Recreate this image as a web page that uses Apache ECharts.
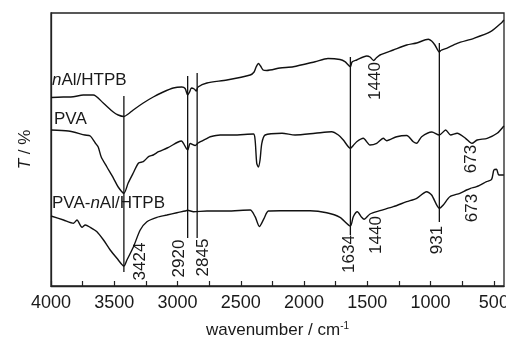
<!DOCTYPE html>
<html>
<head>
<meta charset="utf-8">
<script src="https://cdn.jsdelivr.net/npm/echarts@6/dist/echarts.min.js"></script>
<style>
html,body{margin:0;padding:0;background:#fff;}
#c{width:506px;height:338px;}
</style>
</head>
<body>
<div id="c"></div>
<script>
// Arbitrary transmittance units (curves are vertically offset as in the figure)
const nAlHTPB = [[4000,188.5],[3903,189],[3824,189.3],[3745,191],[3666,191],[3587,183],[3508,174],[3469,171],[3424,169.5],[3390,172],[3350,176],[3271,183],[3192,189],[3113,194],[3034,198],[2966,199],[2940,197.5],[2920,191],[2905,194],[2890,198],[2868,197],[2852,195],[2838,199],[2768,203],[2610,206],[2426,211],[2395,214],[2379,219],[2361,222.5],[2344,220],[2324,216],[2295,215.5],[2190,218],[2085,219.3],[1913,224.3],[1811,227.5],[1716,226.5],[1677,224.3],[1634,219.3],[1621,224],[1584,226],[1505,230],[1479,229],[1450,225.5],[1430,228],[1400,231],[1295,236],[1189,241],[1110,243],[1019,246.7],[992,245],[966,241],[931,234],[919,235.5],[874,237.7],[790,242.7],[658,247.7],[526,254.3],[439,263.3],[421,266]];
const PVA = [[4000,156],[3863,155],[3732,151],[3690,150],[3650,143],[3627,139],[3603,129],[3558,119],[3506,107.7],[3469,99],[3424,92.7],[3390,103],[3350,113],[3308,123],[3271,124.3],[3229,129.3],[3192,131],[3150,134.3],[3082,138],[2995,144],[2970,145],[2920,136],[2900,142.5],[2860,140.5],[2837,143],[2766,147.7],[2742,149.3],[2663,151],[2561,151],[2400,152],[2387,146],[2374,122.7],[2361,119],[2348,126],[2334,142.7],[2308,151],[2174,152.7],[2071,151],[1913,152.7],[1782,154.3],[1729,151],[1690,146],[1634,137.7],[1611,140.5],[1584,144.3],[1532,147.7],[1479,141],[1426,142.7],[1374,147.7],[1347,145.3],[1268,149.3],[1189,150.5],[1137,144.3],[1110,142.7],[1071,149.3],[990,154],[931,151],[881,156],[842,151],[790,152.7],[724,147.7],[673,142.7],[632,146],[553,147.7],[474,152.7],[421,160]];
const PVA_nAlHTPB = [[4000,70],[3901,66],[3822,62.7],[3795,66],[3755,58.7],[3729,61],[3690,58.7],[3637,54.3],[3585,46],[3532,36],[3479,27.7],[3424,20],[3400,26],[3348,39.3],[3295,56],[3242,64.3],[3163,68.7],[3084,71],[3005,73.3],[2940,75],[2920,75.7],[2874,74.3],[2768,75],[2610,75],[2426,76],[2387,69.3],[2353,59.5],[2316,67.7],[2282,75],[2190,75.3],[2085,75.3],[1953,75.3],[1821,73.3],[1716,68.7],[1634,60],[1611,69.3],[1579,74.3],[1545,68.7],[1526,66.7],[1479,72],[1400,75.3],[1295,79.3],[1189,84.3],[1110,87.7],[1032,94.3],[992,91],[931,77.7],[900,81],[848,89.3],[769,92.7],[716,96],[684,97.7],[637,99.3],[558,104.3],[518,106.7],[500,116],[479,116.7],[461,111],[421,111]];

// Marker lines: wavenumber, lower end, upper end (same units)
const markerWn = [3424, 2920, 2845, 1634, 931];
const markerLow = [14, 48, 48, 51, 64];
const markerHigh = [190, 210, 213, 229, 243];

const tickValues = [500,750,1000,1250,1500,1750,2000,2250,2500,2750,3000,3250,3500,3750,4000];
const labelValues = [500,1000,1500,2000,2500,3000,3500,4000];

const seriesNames = ['nAl/HTPB', 'PVA', 'PVA-nAl/HTPB'];
const peakLabels = ['3424','2920','2845','1634','1440','931','673','673','1440'];

const FONT = "'Liberation Sans',Arial,sans-serif";
const TXT = '#1a1a1a';
const FS = 17;

const chart = echarts.init(document.getElementById('c'), null, {renderer:'canvas', width:506, height:338});

const series = [
  {name: seriesNames[0], data: nAlHTPB},
  {name: seriesNames[1], data: PVA},
  {name: seriesNames[2], data: PVA_nAlHTPB}
].map(s => ({
  type:'line', name:s.name, data:s.data, showSymbol:false, smooth:0.25,
  lineStyle:{color:'#111', width:1.4}, silent:true, animation:false
}));

markerWn.forEach((w,i) => {
  series.push({
    type:'line', data:[[w, markerLow[i]],[w, markerHigh[i]]], showSymbol:false,
    lineStyle:{color:'#111', width:1.3}, silent:true, animation:false
  });
});

// label positions (pixels)
const peakPos = [[140,261.5],[179,258.5],[203,257.5],[349,254],[376.5,235],[437.5,240],[472.5,208],[471.5,159],[375,81]];
const graphics = [];
peakLabels.forEach((t,i) => {
  graphics.push({type:'text', x:peakPos[i][0], y:peakPos[i][1], rotation:Math.PI/2,
    style:{text:t, font:FS+'px ' + FONT, fill:TXT, textAlign:'center', textVerticalAlign:'middle'}});
});
const namePos = [[52,80],[54,119],[52,203]];
graphics.push({type:'text', x:namePos[0][0], y:namePos[0][1],
  style:{text:'{i|n}{r|Al/HTPB}', textVerticalAlign:'middle', rich:{i:{font:'italic '+FS+'px '+FONT, fill:TXT}, r:{font:FS+'px '+FONT, fill:TXT}}}});
graphics.push({type:'text', x:namePos[1][0], y:namePos[1][1],
  style:{text:'PVA', font:FS+'px '+FONT, fill:TXT, textVerticalAlign:'middle'}});
graphics.push({type:'text', x:namePos[2][0], y:namePos[2][1],
  style:{text:'{r|PVA-}{i|n}{r|Al/HTPB}', textVerticalAlign:'middle', rich:{i:{font:'italic '+FS+'px '+FONT, fill:TXT}, r:{font:FS+'px '+FONT, fill:TXT}}}});

chart.setOption({
  backgroundColor:'#fff',
  animation:false,
  grid:{left:51, right:2, top:13, bottom:52, show:true, borderColor:'#222', borderWidth:1.3, containLabel:false, outerBoundsMode:'none'},
  xAxis:{
    type:'value', inverse:true, min:420, max:4000,
    axisLine:{show:true, lineStyle:{color:'#222', width:1.3}},
    axisTick:{show:true, inside:true, length:5, customValues:tickValues, lineStyle:{color:'#222', width:1.2}},
    axisLabel:{show:true, customValues:labelValues, formatter:v => String(v), fontFamily:FONT, fontSize:18, color:TXT, margin:8, hideOverlap:false},
    splitLine:{show:false},
    name:'wavenumber / cm{s|-1}', nameLocation:'middle', nameGap:35,
    nameTextStyle:{fontFamily:FONT, fontSize:FS, color:TXT, rich:{s:{fontFamily:FONT, fontSize:10, color:TXT, verticalAlign:'top', padding:[0,0,8,0]}}}
  },
  yAxis:{
    type:'value', min:0, max:273,
    axisLine:{show:true, lineStyle:{color:'#222', width:1.3}},
    axisTick:{show:false}, axisLabel:{show:false}, splitLine:{show:false},
    name:'{i|T} / %', nameLocation:'middle', nameGap:17, nameRotate:90,
    nameTextStyle:{fontFamily:FONT, fontSize:FS, color:TXT, rich:{i:{fontFamily:FONT, fontSize:FS, fontStyle:'italic', color:TXT}}}
  },
  series: series,
  graphic: graphics
});
</script>
</body>
</html>
